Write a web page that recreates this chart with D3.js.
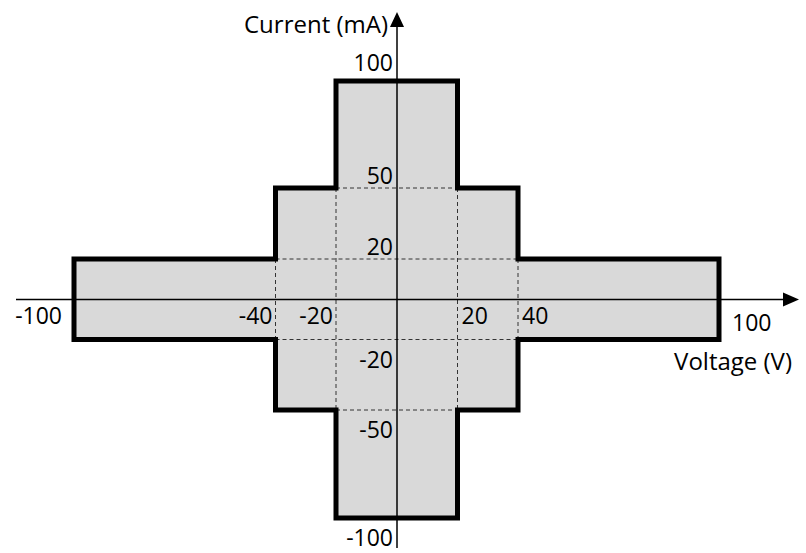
<!DOCTYPE html>
<html>
<head>
<meta charset="utf-8">
<script src="https://cdn.jsdelivr.net/npm/d3@7"></script>
<style>
  html, body { margin: 0; padding: 0; background: #fff; }
  svg { display: block; }
  text { font-family: "Open Sans", "Noto Sans", sans-serif; font-size: 23px; fill: #000; }
  text.title { font-size: 24px; }
</style>
</head>
<body>
<svg id="chart" width="806" height="553"></svg>
<script>
// ---- data ----
const voltageTicks = [-100, -40, -20, 20, 40, 100];
const currentTicks = [100, 50, 20, -20, -50, -100];
// envelope: for |V| up to stepVoltage[i], |I| may reach stepCurrent[i]
const stepVoltage = [20, 40, 100];
const stepCurrent = [100, 50, 20];
const xTitle = "Voltage (V)";
const yTitle = "Current (mA)";

const svg = d3.select("#chart");

// piecewise scales (axis is not uniform in the reference)
const x = d3.scaleLinear()
  .domain([-100, -40, -20, 0, 20, 40, 100])
  .range([74, 275.5, 336, 397, 457.5, 518, 719]);
const y = d3.scaleLinear()
  .domain([-100, -50, -20, 0, 20, 50, 100])
  .range([518, 410, 339.5, 299.5, 259, 188, 81]);

// build envelope polygon from steps
const pts = [];
for (let i = stepVoltage.length - 1; i >= 0; i--) {
  const v = stepVoltage[i], c = stepCurrent[i];
  pts.push([-v, c]);
  const inner = i > 0 ? stepVoltage[i - 1] : null;
  if (inner !== null) pts.push([-inner, c]);
}
for (let i = 0; i < stepVoltage.length; i++) {
  const v = stepVoltage[i], c = stepCurrent[i];
  const inner = i > 0 ? stepVoltage[i - 1] : null;
  if (inner !== null) pts.push([inner, c]);
  pts.push([v, c]);
}
const upper = pts.slice();
const lower = upper.map(([v, c]) => [v, -c]).reverse();
const poly = upper.concat(lower);

const line = d3.line().x(d => x(d[0])).y(d => y(d[1])).curve(d3.curveLinearClosed);

svg.append("path")
  .attr("d", line(poly))
  .attr("fill", "#d9d9d9")
  .attr("stroke", "none");

// dashed interior lines
const dashG = svg.append("g")
  .attr("stroke", "#333")
  .attr("stroke-width", 1)
  .attr("stroke-dasharray", "4,3")
  .attr("fill", "none");
for (let i = 0; i < stepVoltage.length - 1; i++) {
  const v = stepVoltage[i];
  const cOuter = stepCurrent[i + 1];
  [-v, v].forEach(vv => {
    dashG.append("line")
      .attr("x1", x(vv)).attr("x2", x(vv))
      .attr("y1", y(cOuter)).attr("y2", y(-cOuter));
  });
  [-cOuter, cOuter].forEach(cc => {
    dashG.append("line")
      .attr("x1", x(-v)).attr("x2", x(v))
      .attr("y1", y(cc)).attr("y2", y(cc));
  });
}

// axes
const axG = svg.append("g").attr("stroke", "#000").attr("stroke-width", 1.5);
axG.append("line").attr("x1", 16).attr("x2", 786).attr("y1", y(0)).attr("y2", y(0));
axG.append("line").attr("x1", x(0)).attr("x2", x(0)).attr("y1", 548).attr("y2", 24);
svg.append("path")
  .attr("d", `M799,${y(0)} L783,${y(0) - 7} L783,${y(0) + 7} Z`)
  .attr("fill", "#000");
svg.append("path")
  .attr("d", `M${x(0)},12 L${x(0) - 7},27 L${x(0) + 7},27 Z`)
  .attr("fill", "#000");

// thick envelope outline
svg.append("path")
  .attr("d", line(poly))
  .attr("fill", "none")
  .attr("stroke", "#000")
  .attr("stroke-width", 5)
  .attr("stroke-linejoin", "miter");

// x tick labels
const xLab = svg.append("g");
voltageTicks.forEach(v => {
  let tx, anchor, ty = y(0) + 24;
  if (v === -100) { tx = x(v) - 12; anchor = "end"; }
  else if (v === 100) { tx = x(v) + 13; anchor = "start"; ty = y(0) + 31; }
  else if (v < 0) { tx = x(v) - 3; anchor = "end"; }
  else { tx = x(v) + 4; anchor = "start"; }
  xLab.append("text").attr("x", tx).attr("y", ty).attr("text-anchor", anchor).text(v);
});

// y tick labels
const yLab = svg.append("g");
currentTicks.forEach(c => {
  let ty;
  if (c === 100) ty = y(c) - 10;
  else if (c > 0) ty = y(c) - 4;
  else ty = y(c) + 28;
  yLab.append("text").attr("x", x(0) - 4).attr("y", ty).attr("text-anchor", "end").text(c);
});

// titles
svg.append("text").attr("class", "title").attr("x", 792).attr("y", 370).attr("text-anchor", "end").text(xTitle);
svg.append("text").attr("class", "title").attr("x", 388).attr("y", 33).attr("text-anchor", "end").text(yTitle);
</script>
</body>
</html>
